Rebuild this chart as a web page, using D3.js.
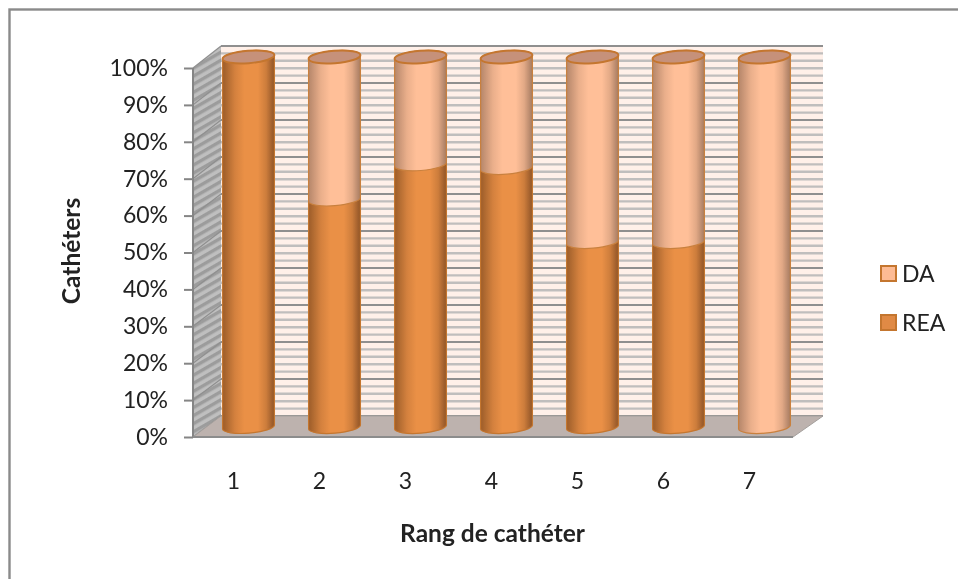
<!DOCTYPE html>
<html><head><meta charset="utf-8">
<script src="https://cdn.jsdelivr.net/npm/d3@7"></script>
<style>html,body{margin:0;padding:0;background:#fff;overflow:hidden}svg{display:block;filter:blur(.4px)}
text{font-family:Lato,"Open Sans",sans-serif;fill:#222}</style></head><body>
<svg id="c" width="958" height="579"></svg>
<script>
const categories = ["1","2","3","4","5","6","7"];
const rea = [100,61.5,71,70,50,50,0];
const da  = [0,38.5,29,30,50,50,100];
const seriesNames = ["DA","REA"];
const axisTicks = d3.range(0,101,10);
const minorTicks = d3.range(0,101,2);

const svg = d3.select("#c");
const defs = svg.append("defs");
function cylGrad(id,edgeL,mid,edgeR){
  const g=defs.append("linearGradient").attr("id",id);
  const iL=d3.interpolateRgb(edgeL,mid), iR=d3.interpolateRgb(edgeR,mid);
  [[0,edgeL],[.1,iL(.3)],[.24,iL(.72)],[.42,mid],[.68,mid],[.84,iR(.68)],[.94,iR(.25)],[1,edgeR]]
    .forEach(s=>g.append("stop").attr("offset",s[0]).attr("stop-color",s[1]));
}
cylGrad("gR","#9c5c29","#ea9046","#8f5427");
cylGrad("gD","#b5866a","#ffbf98","#a57b61");
const hatch=defs.append("pattern").attr("id","hatch").attr("width",7).attr("height",7)
  .attr("patternUnits","userSpaceOnUse").attr("patternTransform","rotate(-30)");
hatch.append("rect").attr("width",7).attr("height",7).attr("fill","#bfbfbf");
hatch.append("rect").attr("width",7).attr("height",3.4).attr("fill","#9c9c9c");

// outer frame (clipped by the window on the right and bottom)
svg.append("rect").attr("x",9.5).attr("y",9.5).attr("width",1200).attr("height",1200)
  .attr("fill","#fff").attr("stroke","#8a8a8a").attr("stroke-width",2.4);

const yFront=d3.scaleLinear().domain([0,100]).range([437,68]);
const yBack =d3.scaleLinear().domain([0,100]).range([416,46]);
const yBar  =d3.scaleLinear().domain([0,100]).range([427,57]);
const xBand =d3.scaleBand().domain(categories).range([206,808]);
const wallR=823,wallL=221,frontL=193,frontR=793;

// back wall
svg.append("rect").attr("x",wallL).attr("y",yBack(100)).attr("width",wallR-wallL).attr("height",yBack(0)-yBack(100)).attr("fill","#fff0e9");
svg.append("g").selectAll("line").data(minorTicks.filter(d=>d%10)).join("line")
  .attr("x1",wallL).attr("x2",wallR).attr("y1",d=>yBack(d)).attr("y2",d=>yBack(d))
  .attr("stroke","#c0bebd").attr("stroke-width",2.4);
svg.append("g").selectAll("line").data(axisTicks).join("line")
  .attr("x1",wallL).attr("x2",wallR).attr("y1",d=>yBack(d)).attr("y2",d=>yBack(d))
  .attr("stroke","#8f8f8f").attr("stroke-width",2);

// side wall
svg.append("polygon").attr("fill","url(#hatch)")
  .attr("points",[[frontL,yFront(100)],[wallL,yBack(100)],[wallL,yBack(0)],[frontL,yFront(0)]].join(" "));
svg.append("g").selectAll("line").data(axisTicks).join("line")
  .attr("x1",frontL).attr("x2",wallL).attr("y1",d=>yFront(d)).attr("y2",d=>yBack(d))
  .attr("stroke","#8f8f8f").attr("stroke-width",1.2);

// floor
svg.append("polygon").attr("fill","#bdb2ae").attr("stroke","#a5a09d")
  .attr("points",[[frontL,yFront(0)],[wallL,yBack(0)],[wallR,yBack(0)],[frontR,yFront(0)]].join(" "));

// axis
const axis=d3.axisLeft(yFront).tickValues(axisTicks).tickFormat(d=>d+"%").tickSize(9).tickPadding(16);
const gA=svg.append("g").attr("transform",`translate(${frontL},0)`).call(axis);
gA.selectAll("line,path").attr("stroke","#858585").attr("stroke-width",2);
gA.select("path").attr("d",`M0,${yFront(100)}V${yFront(0)}`);
gA.selectAll("text").attr("font-size",23).attr("fill","#222").attr("font-family","Lato,sans-serif");
svg.append("line").attr("x1",frontL).attr("x2",frontR).attr("y1",yFront(0)).attr("y2",yFront(0)).attr("stroke","#8c8c8c").attr("stroke-width",2);

// cylinders
const bw=52, rx=bw/2, ry=6.2, tiltDeg=-4.5, t=tiltDeg*Math.PI/180;
const dx=rx*Math.cos(t), dy=rx*Math.sin(t);
function body(cx,yB,yT){
  return `M${cx-dx},${yT-dy}A${rx},${ry} ${tiltDeg} 0 1 ${cx+dx},${yT+dy}`+
         `L${cx+dx},${yB+dy}A${rx},${ry} ${tiltDeg} 0 1 ${cx-dx},${yB-dy}Z`;
}
const cxOf=c=>xBand(c)+xBand.bandwidth()/2-0.5;
const rows=categories.map((c,i)=>({c,r:rea[i],d:da[i]}));
const gB=svg.append("g");
rows.forEach(o=>{
  const cx=cxOf(o.c);
  if(o.r>0) gB.append("path").attr("d",body(cx,yBar(0),yBar(o.r))).attr("fill","url(#gR)").attr("stroke","#c4762f").attr("stroke-width",1.2);
  if(o.d>0) gB.append("path").attr("d",body(cx,yBar(o.r),yBar(o.r+o.d))).attr("fill","url(#gD)").attr("stroke","#c9803e").attr("stroke-width",1.2);
  gB.append("ellipse").attr("cx",cx).attr("cy",yBar(100)).attr("rx",rx).attr("ry",ry)
    .attr("transform",`rotate(${tiltDeg} ${cx} ${yBar(100)})`)
    .attr("fill","#c6917a").attr("stroke","#c4762f").attr("stroke-width",2);
});

// category labels
svg.append("g").selectAll("text").data(categories).join("text")
  .attr("x",d=>cxOf(d)-15).attr("y",489).attr("text-anchor","middle").attr("font-size",23).text(d=>d);

// titles
svg.append("text").attr("x",492.5).attr("y",542).attr("text-anchor","middle").attr("font-size",24.5).attr("font-weight",700).text("Rang de cathéter");
svg.append("text").attr("transform","translate(80,251) rotate(-90)").attr("text-anchor","middle").attr("font-size",24.5).attr("font-weight",700).text("Cathéters");

// legend
const legY=d3.scalePoint().domain(seriesNames).range([273.5,322.5]);
const legColor=d3.scaleOrdinal().domain(seriesNames).range(["#fdbb94","#e08a45"]);
const gL=svg.append("g").selectAll("g").data(seriesNames).join("g").attr("transform",d=>`translate(0,${legY(d)})`);
gL.append("rect").attr("x",881).attr("y",-7.5).attr("width",15).attr("height",15).attr("fill",d=>legColor(d)).attr("stroke","#c4762f").attr("stroke-width",2);
gL.append("text").attr("x",902).attr("y",8).attr("font-size",23).text(d=>d);
</script></body></html>
